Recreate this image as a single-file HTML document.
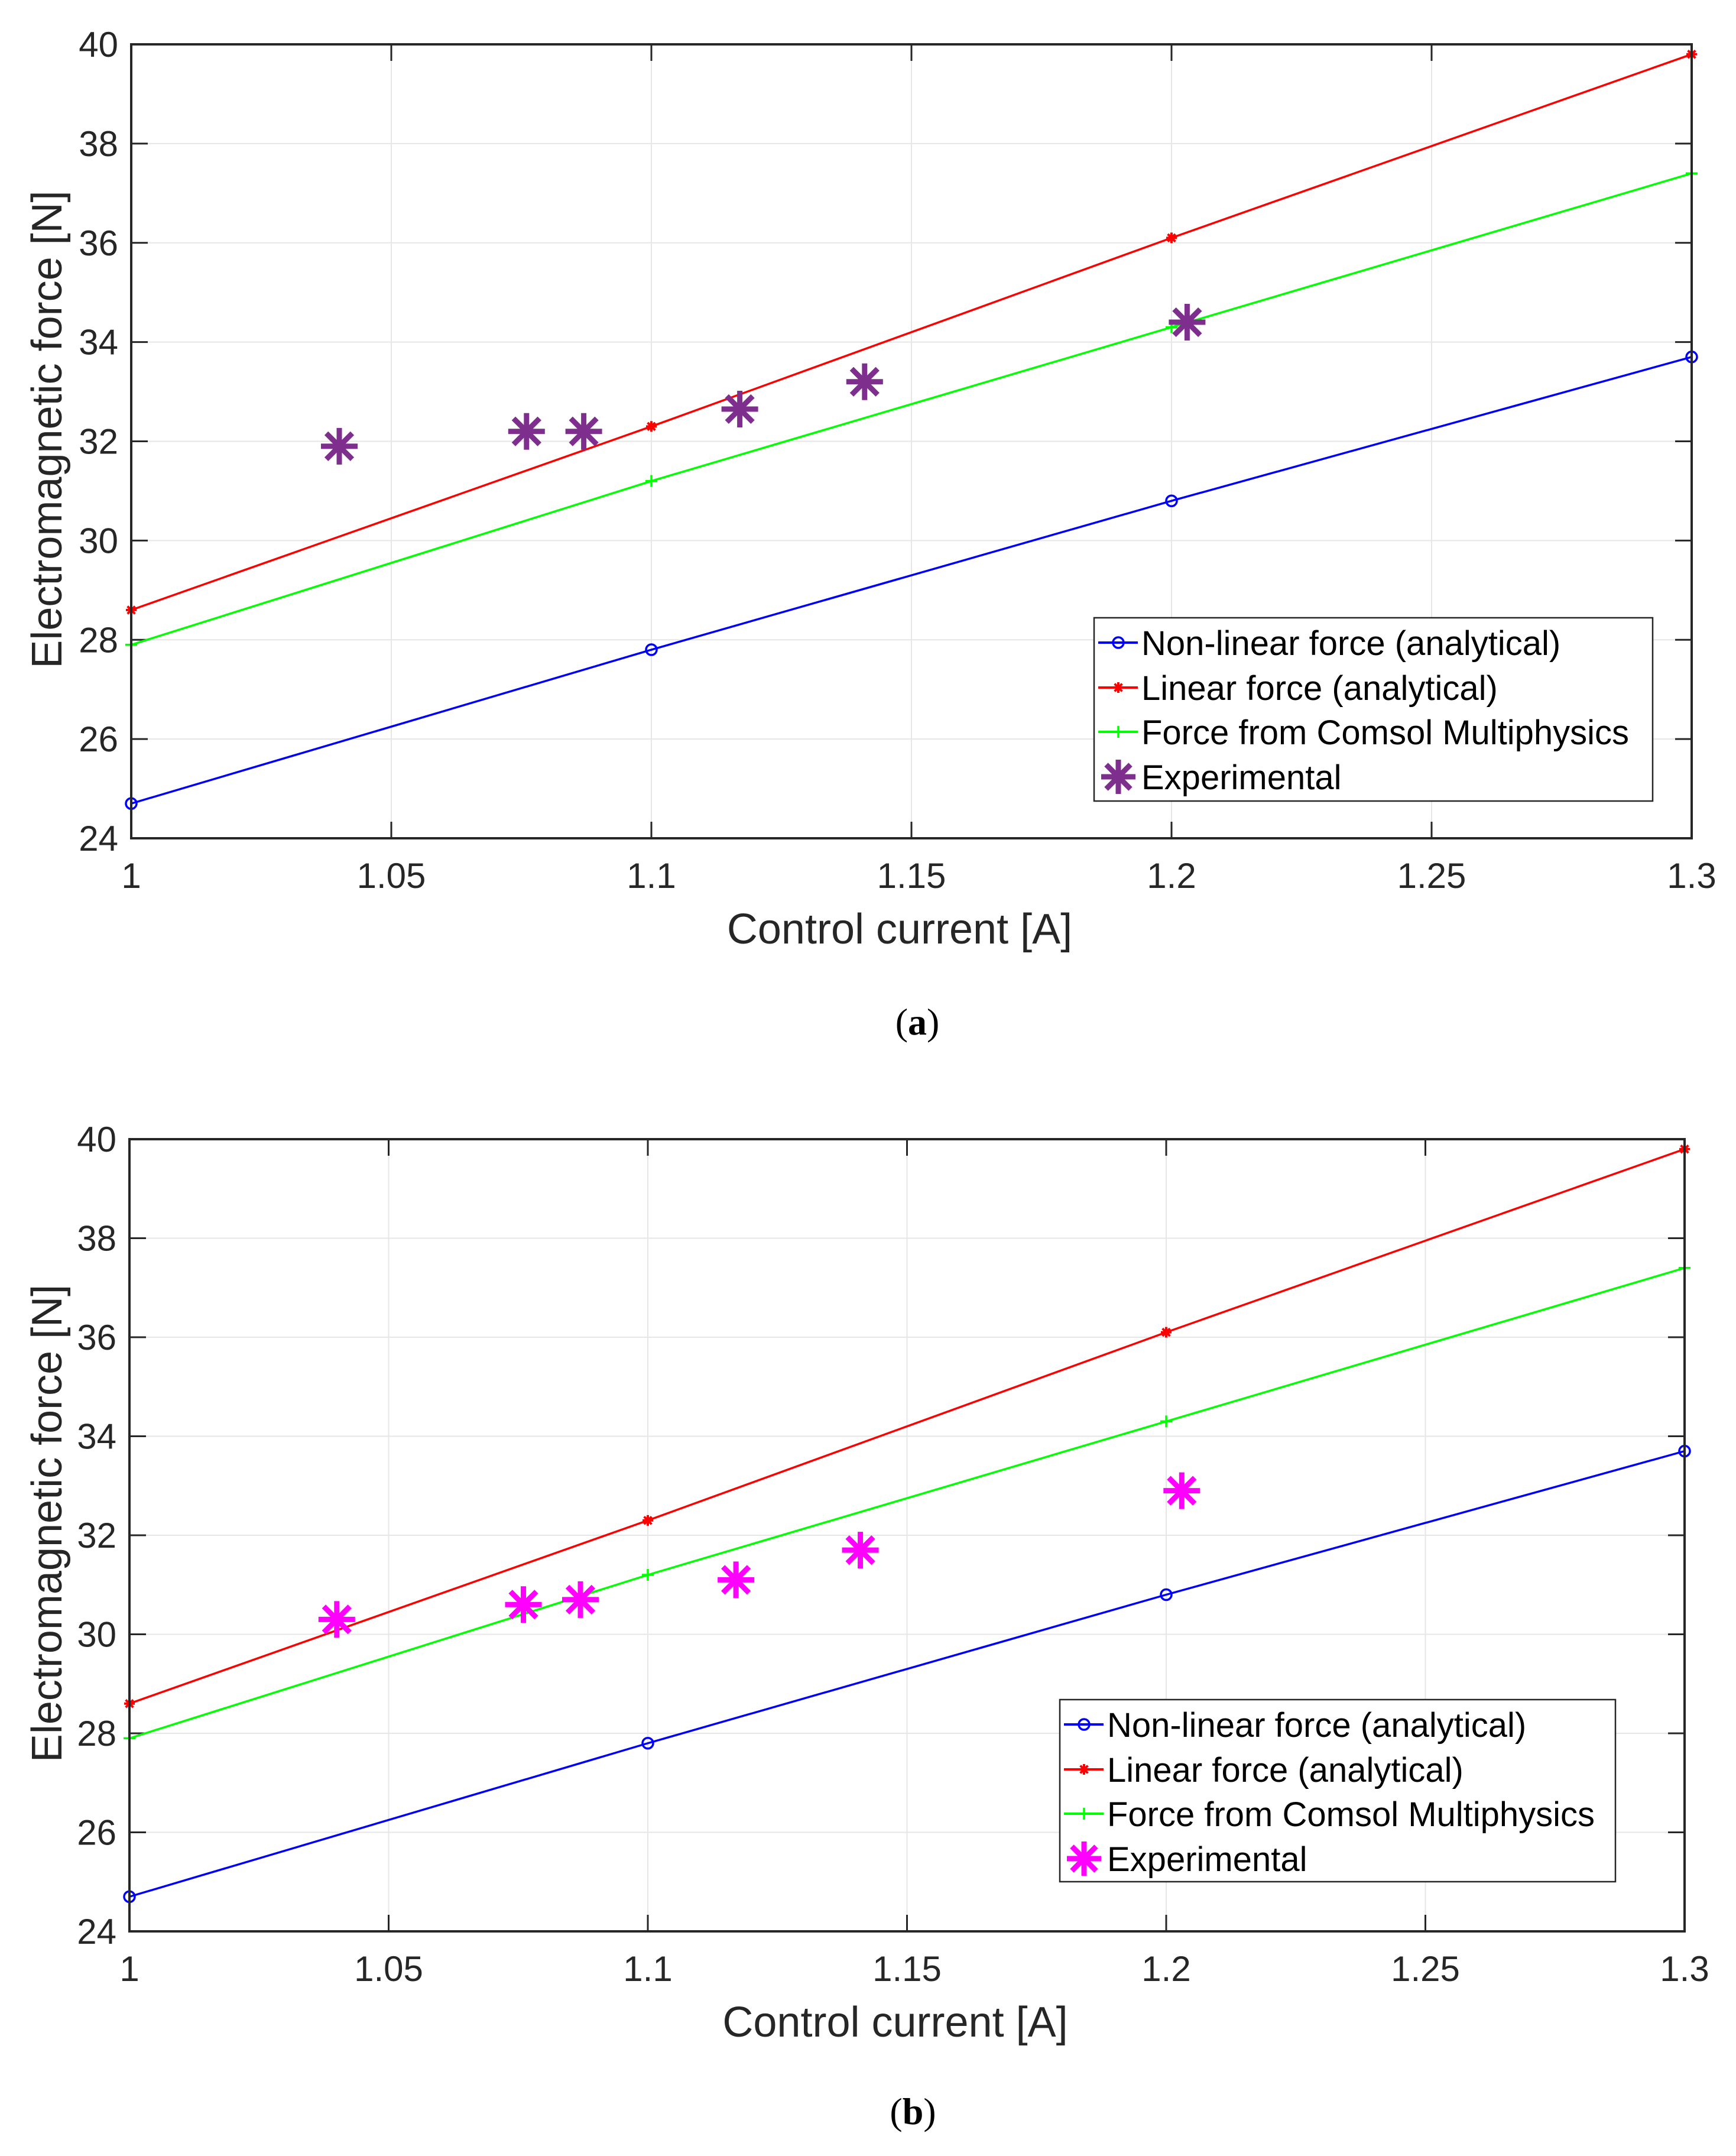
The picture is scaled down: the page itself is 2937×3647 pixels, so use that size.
<!DOCTYPE html>
<html><head><meta charset="utf-8"><style>
html,body{margin:0;padding:0;background:#fff;}
svg{display:block;font-family:"Liberation Sans",sans-serif;}
</style></head><body>
<svg id="fig" width="2937" height="3647" viewBox="0 0 2937 3647" xmlns="http://www.w3.org/2000/svg"></svg>
<script>
const xCurrent = [1, 1.1, 1.2, 1.3];
const nonLinear = [24.7, 27.8, 30.8, 33.7];
const linearF = [28.6, 32.3, 36.1, 39.8];
const comsol = [27.9, 31.2, 34.3, 37.4];
const expX = [1.04, 1.076, 1.087, 1.117, 1.141, 1.203];
const expA = [31.9, 32.2, 32.2, 32.65, 33.2, 34.4];
const expB = [30.3, 30.6, 30.7, 31.1, 31.7, 32.9];
const xTicks = [1, 1.05, 1.1, 1.15, 1.2, 1.25, 1.3];
const xTickLabels = ["1","1.05","1.1","1.15","1.2","1.25","1.3"];
const yTicks = [24, 26, 28, 30, 32, 34, 36, 38, 40];
const legendLabels = ["Non-linear force (analytical)","Linear force (analytical)","Force from Comsol Multiphysics","Experimental"];

const NS = "http://www.w3.org/2000/svg";
const svg = document.getElementById('fig');
function mk(tag, attrs, parent){
  const e = document.createElementNS(NS, tag);
  for (const k in attrs) e.setAttribute(k, attrs[k]);
  (parent||svg).appendChild(e);
  return e;
}

function star(g, cx, cy, r, color, w){
  for (let i=0;i<4;i++){
    const a = i*Math.PI/4;
    const l = mk('line',{x1:cx-r*Math.sin(a),y1:cy-r*Math.cos(a),x2:cx+r*Math.sin(a),y2:cy+r*Math.cos(a),stroke:color,'stroke-width':w},g);
    
    
  }
}

function panel(id, L, T, R, B, expY, expColor, leg, caption, capY){
  const g = mk('g',{});
  
  
  const sx = v => L + (v-1)/(0.3)*(R-L);
  const sy = v => B - (v-24)/16*(B-T);
  xTicks.forEach(t=>{ const l=mk('line',{x1:sx(t),x2:sx(t),y1:T,y2:B,stroke:'#e6e6e6','stroke-width':2},g);
     });
  yTicks.forEach(t=>{ const l=mk('line',{x1:L,x2:R,y1:sy(t),y2:sy(t),stroke:'#e6e6e6','stroke-width':2},g);
     });
  xTicks.forEach((t,i)=>{ const tx=mk('text',{x:sx(t),y:B+84,'font-size':60,'text-anchor':'middle',fill:'#262626'},g);
    tx.textContent=xTickLabels[i];  
    mk('line',{x1:sx(t),x2:sx(t),y1:B,y2:B-28,stroke:'#262626','stroke-width':3},g);
    mk('line',{x1:sx(t),x2:sx(t),y1:T,y2:T+28,stroke:'#262626','stroke-width':3},g);});
  yTicks.forEach(t=>{ const tx=mk('text',{x:L-22,y:sy(t)+21,'font-size':60,'text-anchor':'end',fill:'#262626'},g);
    tx.textContent=String(t);  
    mk('line',{x1:L,x2:L+28,y1:sy(t),y2:sy(t),stroke:'#262626','stroke-width':3},g);
    mk('line',{x1:R,x2:R-28,y1:sy(t),y2:sy(t),stroke:'#262626','stroke-width':3},g);});
  const xl=mk('text',{x:(L+R)/2-20,y:B+178,'font-size':72,'text-anchor':'middle',fill:'#262626'},g);
  xl.textContent='Control current [A]';  
  const yl=mk('text',{x:0,y:0,'font-size':72,'text-anchor':'middle',fill:'#262626',transform:`translate(104,${(T+B)/2-20}) rotate(-90)`},g);
  yl.textContent='Electromagnetic force [N]';  
  const series=[[nonLinear,'#0000ff','o','series-nonlinear'],[linearF,'#ff0000','*','series-linear'],[comsol,'#00ff00','+','series-comsol']];
  series.forEach(([ys,c,m,nm])=>{
    const pl=mk('polyline',{points:xCurrent.map((x,i)=>sx(x)+','+sy(ys[i])).join(' '),fill:'none',stroke:c,'stroke-width':3.5},g);
     
    xCurrent.forEach((x,i)=>{
      const cx=sx(x), cy=sy(ys[i]);
      if(m==='o'){const c1=mk('circle',{cx,cy,r:9,fill:'none',stroke:c,'stroke-width':3.5},g);
         }
      else if(m==='*'){star(g,cx,cy,9,c,4);}
      else {const p=mk('path',{d:`M${cx-10},${cy}H${cx+10}M${cx},${cy-10}V${cy+10}`,stroke:c,'stroke-width':3.5},g);
         }
    });
  });
  expX.forEach((x,i)=>{ star(g,sx(x),sy(expY[i]),31,expColor,9); });
  const bx=mk('rect',{x:L,y:T,width:R-L,height:B-T,fill:'none',stroke:'#262626','stroke-width':4},g);
   
  const [lx,ly,lw,lh]=leg;
  const lg=mk('g',{},g);  
  mk('rect',{x:lx,y:ly,width:lw,height:lh,fill:'#fff',stroke:'#262626','stroke-width':2.5},lg);
  const rowsY=[ly+42,ly+118,ly+193,ly+269];
  const cols=['#0000ff','#ff0000','#00ff00',expColor];
  legendLabels.forEach((lab,i)=>{
    const y=rowsY[i], mx=lx+40;
    if(i<3){ mk('line',{x1:lx+7,x2:lx+74,y1:y,y2:y,stroke:cols[i],'stroke-width':4},lg);}
    if(i===0){ mk('circle',{cx:mx+1,cy:y,r:9,fill:'none',stroke:cols[0],'stroke-width':3.5},lg);}
    else if(i===1){ star(lg,mx+1,y,9,cols[1],4);}
    else if(i===2){ mk('line',{x1:mx+1,x2:mx+1,y1:y-10,y2:y+10,stroke:cols[2],'stroke-width':3.5},lg);}
    else { star(lg,mx+1,y,29,expColor,9);}
    const t=mk('text',{x:lx+80,y:y+21,'font-size':58,fill:'#000'},lg);
    t.textContent=lab;  
  });
  const cap=mk('text',{x:(L+R)/2+10,y:capY,'font-size':64,'text-anchor':'middle','font-family':'"Liberation Serif",serif',fill:'#000'},g);
  cap.innerHTML='(<tspan font-weight="bold">'+caption+'</tspan>)';
   
}

panel('a',222,75,2862,1418,expA,'#7e2f8e',[1851,1045,945,310],'a',1750);
panel('b',219,1927,2850,3267,expB,'#ff00ff',[1793,2875,940,308],'b',3593);
</script>
</body></html>
